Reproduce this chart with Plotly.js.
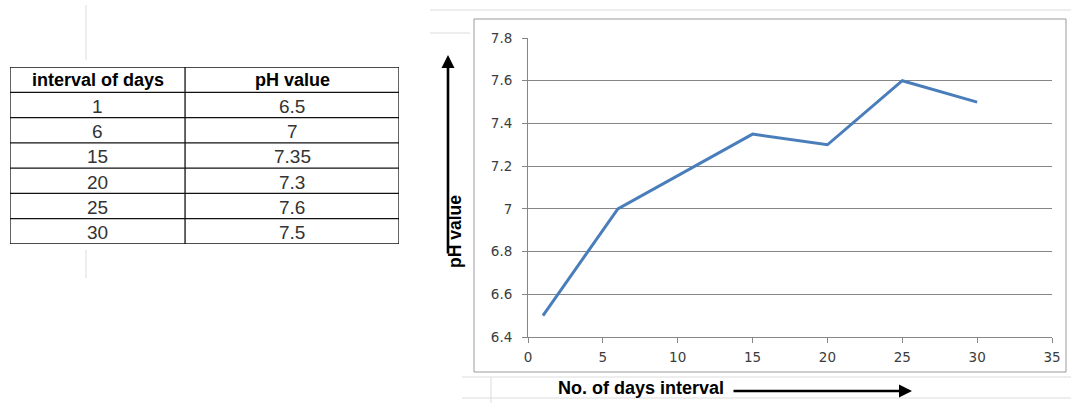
<!DOCTYPE html>
<html>
<head>
<meta charset="utf-8">
<script src="https://cdn.plot.ly/plotly-3.0.1.min.js"></script>
<style>
  html, body { margin: 0; padding: 0; background: #ffffff; }
  #chart { width: 1071px; height: 403px; }
</style>
</head>
<body>
<div id="chart"></div>
<script>
// pH readings taken over the interval of days
const days = [1, 6, 15, 20, 25, 30];
const phValues = [6.5, 7, 7.35, 7.3, 7.6, 7.5];
const tableHeaders = ['interval of days', 'pH value'];
const xTicks = [0, 5, 10, 15, 20, 25, 30, 35];
const yTicks = [6.4, 6.6, 6.8, 7, 7.2, 7.4, 7.6, 7.8];

const W = 1071, H = 403;
const px = v => v / W;          // pixel column -> paper x
const py = v => 1 - v / H;      // pixel row -> paper y

const tickFont = { family: 'DejaVu Sans, Verdana, sans-serif', size: 13.5, color: '#3c3c3c' };
const boldFont = { family: 'Liberation Sans, Arial, sans-serif', color: '#000' };

const lineTrace = {
  type: 'scatter',
  mode: 'lines',
  x: days,
  y: phValues,
  line: { color: '#4a7ebb', width: 3 },
  xaxis: 'x', yaxis: 'y',
  showlegend: false,
  hoverinfo: 'x+y'
};

// ---- data table, laid out on its own hidden axes (x2: column units, y2: row index, top-down)
const colEdges = [0, 0.9, 2];                 // relative column boundaries
const nRows = days.length + 1;                // header + data rows
const columns = [days.map(String), phValues.map(String)];

const tableShapes = [];
const tableNotes = [];
const gridLine = { color: '#111', width: 1.3 };
for (let r = 0; r <= nRows; r++) {
  tableShapes.push({ type: 'line', xref: 'x2', yref: 'y2', x0: colEdges[0], x1: colEdges[2], y0: r, y1: r, line: gridLine });
}
colEdges.forEach(c => {
  tableShapes.push({ type: 'line', xref: 'x2', yref: 'y2', x0: c, x1: c, y0: 0, y1: nRows, line: gridLine });
});
tableHeaders.forEach((h, c) => {
  tableNotes.push({ xref: 'x2', yref: 'y2', x: (colEdges[c] + colEdges[c + 1]) / 2, y: 0.5,
    xanchor: 'center', yanchor: 'middle', showarrow: false, text: '<b>' + h + '</b>',
    font: Object.assign({ size: 18 }, boldFont) });
});
columns.forEach((col, c) => {
  col.forEach((v, i) => {
    tableNotes.push({ xref: 'x2', yref: 'y2', x: (colEdges[c] + colEdges[c + 1]) / 2, y: i + 1.55,
      xanchor: 'center', yanchor: 'middle', showarrow: false, text: v,
      font: { family: 'Liberation Sans, Arial, sans-serif', size: 19, color: '#333' } });
  });
});

const faint = { color: '#dcdcdc', width: 1 };
const shapes = [
  // surrounding worksheet cell borders
  { type: 'line', xref: 'paper', yref: 'paper', x0: px(86), x1: px(86), y0: py(5), y1: py(60), line: faint },
  { type: 'line', xref: 'paper', yref: 'paper', x0: px(86), x1: px(86), y0: py(250), y1: py(278), line: faint },
  { type: 'line', xref: 'paper', yref: 'paper', x0: px(430), x1: px(1071), y0: py(10), y1: py(10), line: faint },
  { type: 'line', xref: 'paper', yref: 'paper', x0: px(430), x1: px(470), y0: py(33), y1: py(33), line: faint },
  { type: 'line', xref: 'paper', yref: 'paper', x0: px(462), x1: px(1071), y0: py(377), y1: py(377), line: faint },
  { type: 'line', xref: 'paper', yref: 'paper', x0: px(462), x1: px(1071), y0: py(398), y1: py(398), line: faint },
  { type: 'line', xref: 'paper', yref: 'paper', x0: px(491), x1: px(491), y0: py(377), y1: py(403), line: faint },
  // chart area border
  { type: 'rect', xref: 'paper', yref: 'paper', x0: px(474), x1: px(1066), y0: py(372), y1: py(19),
    line: { color: '#9a9a9a', width: 1 }, fillcolor: 'rgba(0,0,0,0)' }
].concat(tableShapes);

const annotations = [
  // y-axis title with its upward arrow
  { xref: 'paper', yref: 'paper', x: px(455), y: py(232), xanchor: 'center', yanchor: 'middle',
    textangle: -90, text: '<b>pH value</b>', showarrow: false, font: Object.assign({ size: 17.5 }, boldFont) },
  { xref: 'paper', yref: 'paper', x: px(448), y: py(55), ax: 0, ay: 200, text: '',
    showarrow: true, arrowhead: 2, arrowsize: 1, arrowwidth: 2.6, arrowcolor: '#000' },
  // x-axis title and its arrow
  { xref: 'paper', yref: 'paper', x: px(641), y: py(388), xanchor: 'center', yanchor: 'middle',
    text: '<b>No. of days interval</b>', showarrow: false, font: Object.assign({ size: 18 }, boldFont) },
  { xref: 'paper', yref: 'paper', x: px(912), y: py(391), ax: -180, ay: 0, text: '',
    showarrow: true, arrowhead: 2, arrowsize: 1, arrowwidth: 2.6, arrowcolor: '#000' }
].concat(tableNotes);

const layout = {
  width: W, height: H,
  margin: { l: 0, r: 0, t: 0, b: 0, pad: 0 },
  paper_bgcolor: '#ffffff',
  plot_bgcolor: '#ffffff',
  showlegend: false,
  xaxis: {
    domain: [px(528), px(1052)],
    anchor: 'y',
    range: [0, 35],
    tickvals: xTicks,
    ticks: 'outside', ticklen: 5, tickcolor: '#868686',
    ticklabelstandoff: 3,
    showline: true, linecolor: '#868686', linewidth: 1,
    showgrid: false, zeroline: false,
    tickfont: tickFont
  },
  yaxis: {
    domain: [py(337), py(38)],
    anchor: 'x',
    range: [6.4, 7.8],
    tickvals: yTicks,
    ticks: 'outside', ticklen: 5, tickcolor: '#868686',
    ticklabelstandoff: 7,
    showline: true, linecolor: '#868686', linewidth: 1,
    showgrid: true, gridcolor: '#868686', gridwidth: 1,
    zeroline: false,
    tickfont: tickFont
  },
  xaxis2: { domain: [px(10), px(399)], anchor: 'y2', range: [0, 2], visible: false, fixedrange: true },
  yaxis2: { domain: [py(244), py(67)], anchor: 'x2', range: [nRows, 0], visible: false, fixedrange: true },
  shapes: shapes,
  annotations: annotations
};

Plotly.newPlot('chart', [lineTrace], layout, { displayModeBar: false, staticPlot: true });
</script>
</body>
</html>
